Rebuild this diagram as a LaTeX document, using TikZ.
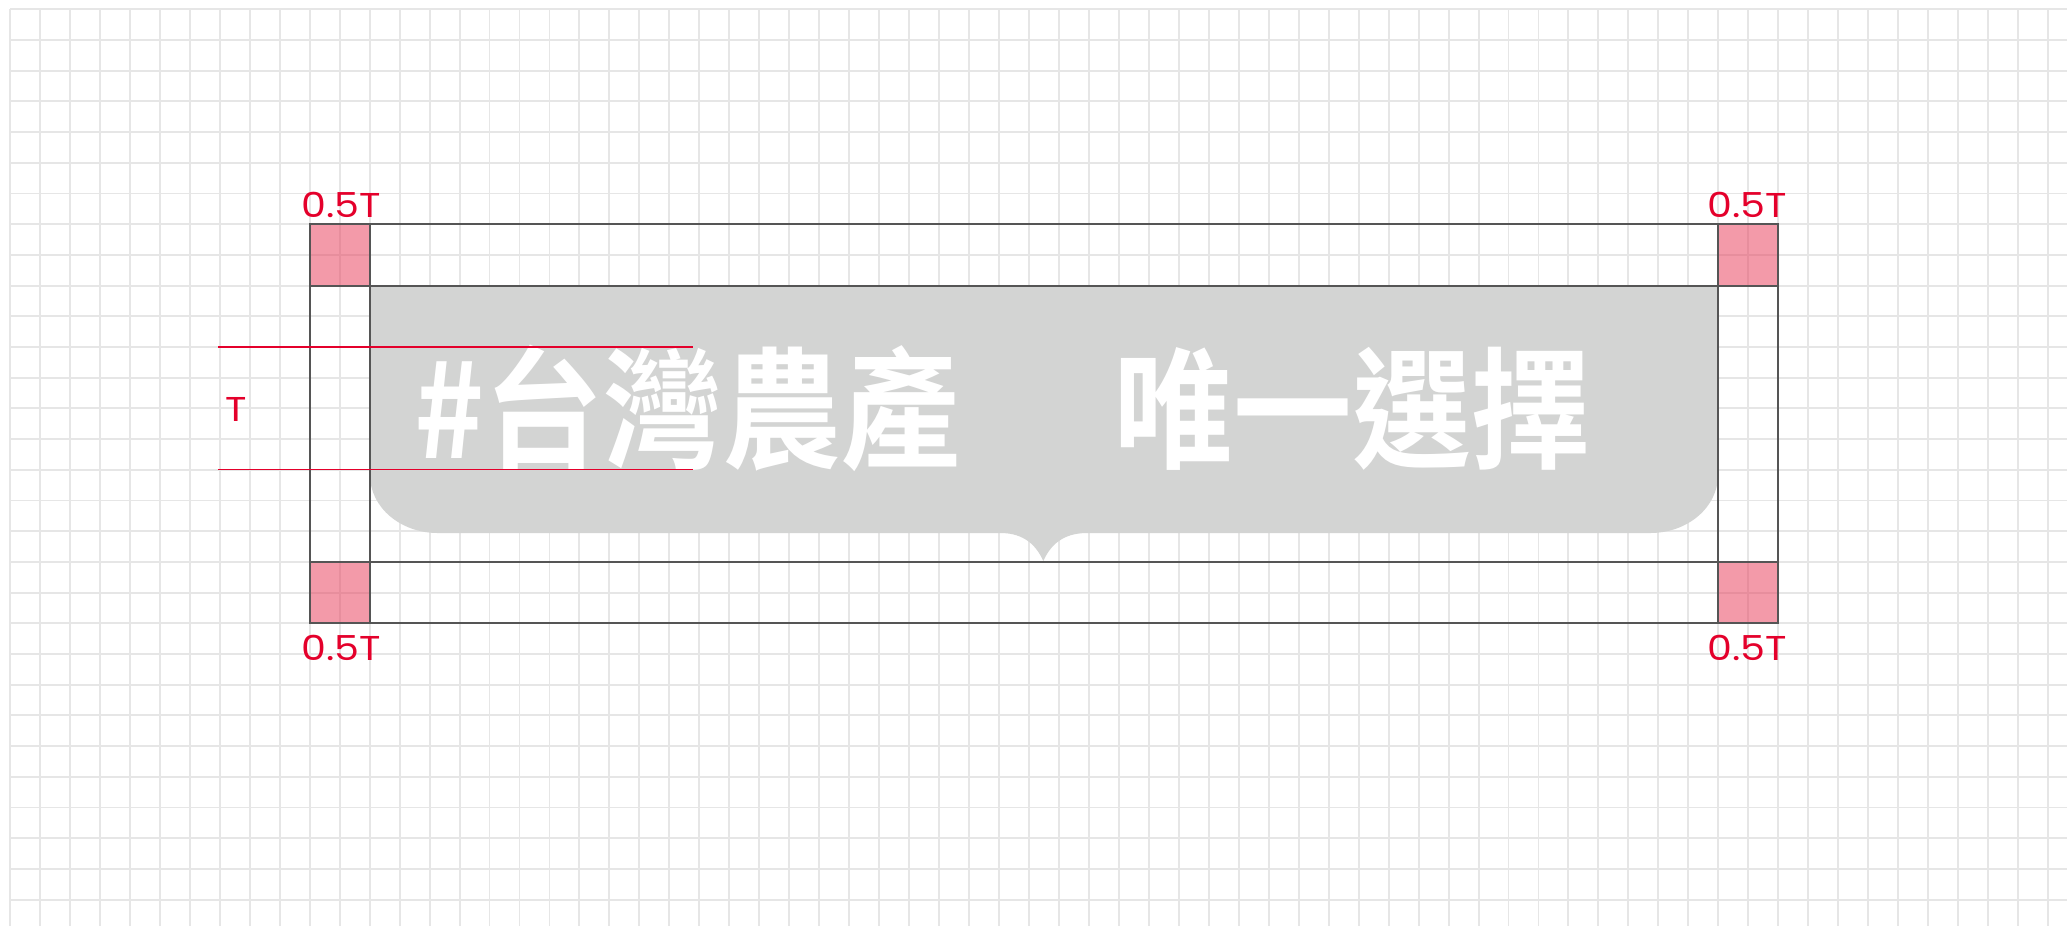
\documentclass[tikz,border=0pt]{standalone}
\usepackage{fontspec}
\usepackage{graphicx}
\setmainfont{Poppins}
\newfontfamily\cjk{Noto Sans CJK TC Bold}
\newcommand\widelbl[1]{\scalebox{1.15}[1]{#1}}
\definecolor{gridc}{RGB}{230,230,230}
\definecolor{framec}{RGB}{85,85,85}
\definecolor{bubblec}{RGB}{211,212,211}
\definecolor{redc}{RGB}{228,0,43}
\definecolor{pinkc}{RGB}{233,55,85}
\begin{document}
\begin{tikzpicture}[x=0.01cm,y=-0.01cm,
  gridline/.style={draw=gridc,line width=0.55pt},
  frameline/.style={draw=framec,line width=0.5pt},
  redline/.style={draw=redc,line width=0.45pt},
  pinksq/.style={fill=pinkc,fill opacity=0.5},
  lbl/.style={text=redc,inner sep=0pt,font=\fontsize{9.8}{10}\selectfont}]
\useasboundingbox[fill=white] (0,0) rectangle (2067,926);
% grid
\foreach \i in {0,...,68} \draw[gridline] ({10+29.97*\i},9.3) -- ({10+29.97*\i},926);
\foreach \j in {0,...,29} \draw[gridline] (10,{9.3+30.7*\j}) -- (2067,{9.3+30.7*\j});
% corner squares
\fill[pinksq] (310,224.3) rectangle (370,286);
\fill[pinksq] (1718,224.3) rectangle (1778,286);
\fill[pinksq] (310,562) rectangle (370,622.7);
\fill[pinksq] (1718,562) rectangle (1778,622.7);
% bubble
\fill[bubblec] (370,286) -- (1718,286) -- (1718,475)
  .. controls (1718,507) and (1688,533) .. (1650,533)
  -- (1087,533) .. controls (1062,533) and (1050,546) .. (1043.3,561)
  .. controls (1036.6,546) and (1024.6,533) .. (1000.6,533)
  -- (438,533) .. controls (400,533) and (370,507) .. (370,475) -- cycle;
% frame lines
\coordinate (oTL) at (310,224.3);
\coordinate (oBR) at (1778,622.7);
\draw[frameline] (oTL) rectangle (oBR);
\coordinate (vl1) at (370,224.3); \coordinate (vl2) at (370,622.7);
\coordinate (vr1) at (1718,224.3); \coordinate (vr2) at (1718,622.7);
\coordinate (ht1) at (310,286); \coordinate (ht2) at (1778,286);
\coordinate (hb1) at (310,562); \coordinate (hb2) at (1778,562);
\draw[frameline] (vl1) -- (vl2);
\draw[frameline] (vr1) -- (vr2);
\draw[frameline] (ht1) -- (ht2);
\draw[frameline] (hb1) -- (hb2);
% title text
\node[anchor=base west,inner sep=0pt,text=white,font=\cjk\fontsize{37.3}{38}\selectfont] (title) at (414,458)
  {\scalebox{0.906}[1]{\#台灣農產\hspace{1.30em}唯一選擇}};
% T dimension lines
\coordinate (ra1) at (218,346.7); \coordinate (ra2) at (693,346.7);
\coordinate (rb1) at (218,469.5); \coordinate (rb2) at (693,469.5);
\draw[redline] (ra1) -- (ra2);
\draw[redline] (rb1) -- (rb2);
\node[lbl] (tlabel) at (236,409) {\widelbl{T}};
% 0.5T labels
\node[lbl] (ltl) at (341,205) {\widelbl{0.5T}};
\node[lbl] (ltr) at (1747,205) {\widelbl{0.5T}};
\node[lbl] (lbl1) at (341,648) {\widelbl{0.5T}};
\node[lbl] (lbr) at (1747,648) {\widelbl{0.5T}};
\end{tikzpicture}
\end{document}
